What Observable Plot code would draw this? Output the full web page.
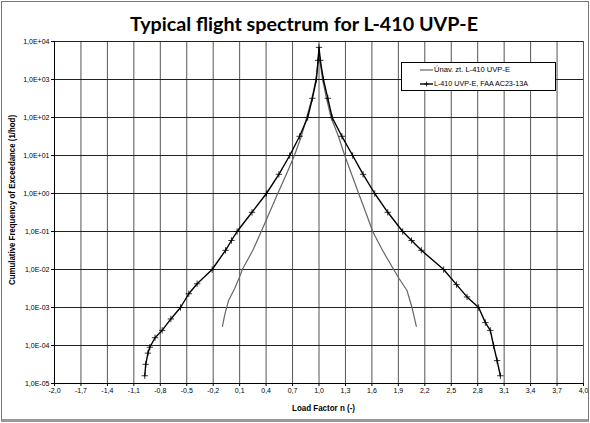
<!DOCTYPE html>
<html><head><meta charset="utf-8">
<script src="https://cdn.jsdelivr.net/npm/d3@7"></script>
<script src="https://cdn.jsdelivr.net/npm/@observablehq/plot@0.6"></script>
<style>
body{margin:0;background:#fff;}
#wrap{position:relative;width:590px;height:423px;overflow:hidden;background:#fff;}
#frame{position:absolute;left:1px;top:1px;width:588px;height:421px;box-sizing:border-box;border:1px solid #777;border-bottom:3px solid #999;pointer-events:none;}
#title{position:absolute;left:0;top:0;}
#chart{position:absolute;left:0;top:36px;}
#overlay{position:absolute;left:0;top:0;pointer-events:none;}
</style></head>
<body>
<div id="wrap">
<svg id="title" width="590" height="36"><text x="304" y="31" text-anchor="middle" font-family="Lato, 'Open Sans', sans-serif" font-weight="bold" font-size="19" fill="#000" textLength="348" lengthAdjust="spacingAndGlyphs">Typical flight spectrum for L-410 UVP-E</text></svg>
<div id="chart"></div>
<svg id="overlay" width="590" height="423" font-family="'Liberation Sans Narrow', 'Liberation Sans', Arial, sans-serif">
<text transform="translate(15,200) rotate(-90)" text-anchor="middle" font-weight="bold" font-size="9.5" textLength="170" lengthAdjust="spacingAndGlyphs">Cumulative Frequency of Exceedance (1/hod)</text>
<text x="323.5" y="411" text-anchor="middle" font-weight="bold" font-size="9.5" textLength="63" lengthAdjust="spacingAndGlyphs">Load Factor n (-)</text>
<rect x="401.5" y="62.5" width="154" height="28" fill="#fff" stroke="#000" stroke-width="1"/>
<line x1="420" x2="433" y1="70" y2="70" stroke="#666" stroke-width="1.2"/>
<text x="434" y="72.3" font-size="6.5" textLength="76" lengthAdjust="spacingAndGlyphs">Únav. zt. L-410 UVP-E</text>
<line x1="420" x2="433" y1="84" y2="84" stroke="#000" stroke-width="1.4"/>
<path d="M426.5,81.5V86.5M424,84H429" stroke="#000" stroke-width="0.8"/>
<text x="434" y="86.3" font-size="6.5" textLength="94" lengthAdjust="spacingAndGlyphs">L-410 UVP-E, FAA AC23-13A</text>
</svg>
<div id="frame"></div>
</div>
<script>
// x tick values and labels
const xTicks = [-2.0,-1.7,-1.4,-1.1,-0.8,-0.5,-0.2,0.1,0.4,0.7,1.0,1.3,1.6,1.9,2.2,2.5,2.8,3.1,3.4,3.7,4.0];
const xTickLabels = ["-2,0","-1,7","-1,4","-1,1","-0,8","-0,5","-0,2","0,1","0,4","0,7","1,0","1,3","1,6","1,9","2,2","2,5","2,8","3,1","3,4","3,7","4,0"];
const yTicks = [1e4,1e3,1e2,1e1,1e0,1e-1,1e-2,1e-3,1e-4,1e-5];
const yTickLabels = ["1,0E+04","1,0E+03","1,0E+02","1,0E+01","1,0E+00","1,0E-01","1,0E-02","1,0E-03","1,0E-04","1,0E-05"];

// Series 1: Únav. zt. L-410 UVP-E (grey)
const uzN = [-0.095,-0.07,-0.027,0.045,0.105,0.13,0.25,0.345,0.44,0.532,0.63,0.721,0.80,0.86,0.92,0.965,0.99,1.0,
             1.01,1.04,1.085,1.137,1.22,1.292,1.37,1.45,1.53,1.609,1.72,1.847,1.91,1.998,2.055,2.104];
const uzF = [3.2e-4,6.3e-4,1.5e-3,3.2e-3,6.9e-3,1e-2,3.2e-2,0.1,0.32,1,3.2,10,32,100,320,1000,3200,7000,
             3200,1000,320,100,32,10,3.2,1,0.32,0.1,3.2e-2,1e-2,5.7e-3,2.8e-3,1e-3,3.2e-4];

// Series 2: L-410 UVP-E, FAA AC23-13A (black with + markers)
const faaN = [-0.976,-0.965,-0.94,-0.919,-0.86,-0.779,-0.68,-0.571,-0.477,-0.382,-0.212,-0.06,0.007,0.071,0.24,0.404,0.545,0.668,0.78,0.872,0.925,0.97,0.99,1.0,
              1.015,1.05,1.10,1.149,1.26,1.382,1.50,1.632,1.78,1.949,2.05,2.161,2.414,2.56,2.679,2.811,2.887,2.943,2.98,3.02,3.057];
const faaF = [1.6e-5,3.2e-5,6.3e-5,9e-5,1.6e-4,2.5e-4,5e-4,1e-3,2.3e-3,4.2e-3,1e-2,3.2e-2,5.8e-2,0.1,0.32,1,3.2,10,32,100,320,1000,3200,7000,
              3200,1000,320,100,32,10,3.2,1,0.32,0.1,5.8e-2,3.2e-2,1e-2,4e-3,1.9e-3,1e-3,4e-4,2.5e-4,1e-4,4e-5,1.6e-5];

const uz = uzN.map((n, i) => ({n, f: uzF[i]}));
const faa = faaN.map((n, i) => ({n, f: faaF[i]}));

const chart = Plot.plot({
  width: 590, height: 387,
  marginLeft: 54, marginRight: 7, marginTop: 5, marginBottom: 40,
  style: {fontFamily: "'Liberation Sans Narrow', 'Liberation Sans', Arial, sans-serif", fontSize: "7px", background: "transparent", color: "#000"},
  x: {domain: [-2, 4]},
  y: {type: "log", domain: [1e-5, 1e4]},
  marks: [
    Plot.gridX(xTicks, {stroke: "#555", strokeOpacity: 1, strokeWidth: 1}),
    Plot.gridY(yTicks, {stroke: "#222", strokeOpacity: 1, strokeWidth: 1}),
    Plot.axisX({ticks: xTicks, tickSize: 3, tickPadding: 2, tickFormat: d => xTickLabels[xTicks.findIndex(t => Math.abs(t - d) < 1e-9)], label: null}),
    Plot.axisY({ticks: yTicks, tickSize: 3, tickPadding: 2, tickFormat: d => yTickLabels[yTicks.findIndex(t => Math.abs(Math.log10(t) - Math.log10(d)) < 1e-9)], label: null}),
    Plot.ruleX([-2], {stroke: "#000"}),
    Plot.ruleY([1e-5], {stroke: "#000"}),
    Plot.line(uz, {x: "n", y: "f", stroke: "#666", strokeWidth: 1.2}),
    Plot.line(faa, {x: "n", y: "f", stroke: "#000", strokeWidth: 1.4}),
    Plot.dot(faa, {x: "n", y: "f", symbol: "plus", stroke: "#000", r: 2.2, strokeWidth: 0.8})
  ]
});
document.getElementById("chart").appendChild(chart);
</script>
</body></html>
